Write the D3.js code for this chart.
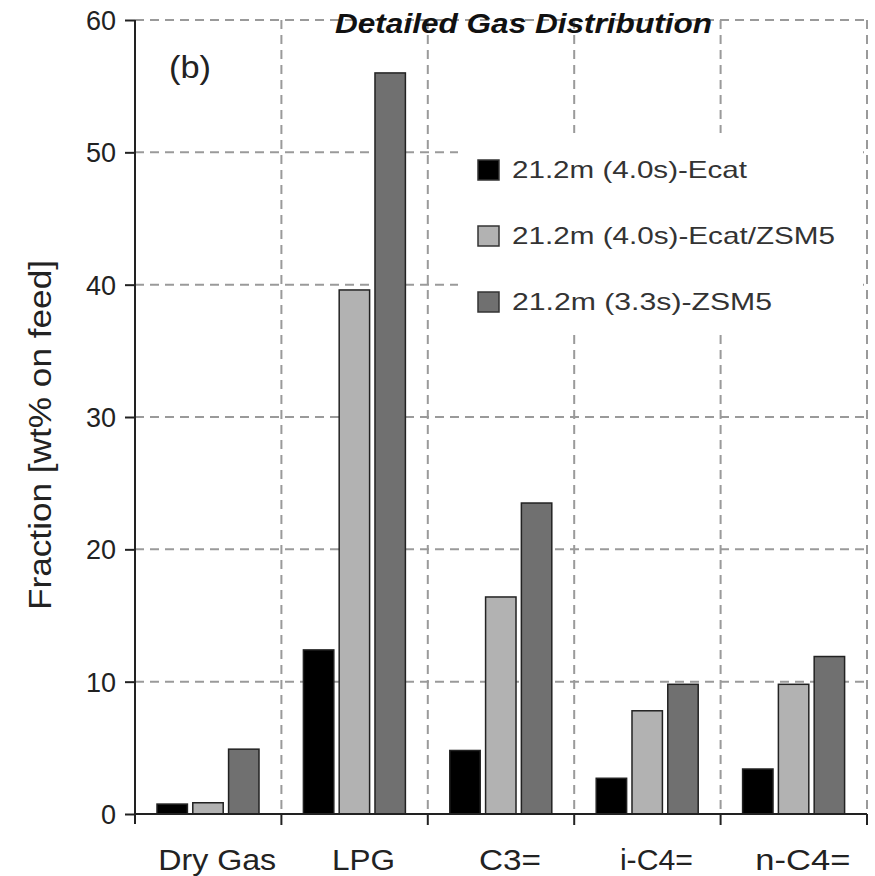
<!DOCTYPE html>
<html>
<head>
<meta charset="utf-8">
<script src="https://cdn.jsdelivr.net/npm/d3@7"></script>
<style>
  body { margin: 0; background: #fff; }
  svg { font-family: "Liberation Sans", Arial, sans-serif; }
</style>
</head>
<body>
<div id="chart"></div>
<script>
var categories = ["Dry Gas", "LPG", "C3=", "i-C4=", "n-C4="];
var seriesNames = ["21.2m (4.0s)-Ecat", "21.2m (4.0s)-Ecat/ZSM5", "21.2m (3.3s)-ZSM5"];
var ecat = [0.75, 12.4, 4.8, 2.7, 3.4];
var ecatZsm5 = [0.85, 39.6, 16.4, 7.8, 9.8];
var zsm5 = [4.9, 56.0, 23.5, 9.8, 11.9];
var yTicks = [0, 10, 20, 30, 40, 50, 60];
var colors = ["#000000", "#b2b2b2", "#707070"];

var width = 875, height = 876;
var plotLeft = 135, plotRight = 867, plotTop = 20, plotBottom = 814;
// measured text widths in the reference
var catLabelWidths = [118, 63, 62, 73, 95];
var legendWidths = [235, 323, 260];

var svg = d3.select("#chart").append("svg")
  .attr("width", width)
  .attr("height", height);

var x0 = d3.scaleBand().domain(categories).range([plotLeft, plotRight]).padding(0);
var x1 = d3.scaleBand().domain(seriesNames).range([22, 124]).paddingInner(0.15).paddingOuter(0);
var y = d3.scaleLinear().domain([0, 60]).range([plotBottom, plotTop]);

var allSeries = [ecat, ecatZsm5, zsm5];

// grid
var grid = svg.append("g").attr("stroke", "#9a9a9a").attr("stroke-width", 2).attr("stroke-dasharray", "9,6");
yTicks.filter(function(t) { return t > 0; }).forEach(function(t) {
  grid.append("line").attr("x1", plotLeft).attr("x2", plotRight).attr("y1", y(t)).attr("y2", y(t));
});
categories.forEach(function(c, i) {
  if (i === categories.length - 1) return;
  var xx = x0(c) + x0.bandwidth();
  grid.append("line").attr("x1", xx).attr("x2", xx).attr("y1", plotTop).attr("y2", plotBottom);
});

// legend background hides the grid behind it
svg.append("rect")
  .attr("x", 458).attr("y", 133)
  .attr("width", 405).attr("height", 197)
  .attr("fill", "#fff");

// right edge grid line
var lastC = categories[categories.length - 1];
svg.append("line")
  .attr("x1", x0(lastC) + x0.bandwidth()).attr("x2", x0(lastC) + x0.bandwidth())
  .attr("y1", plotTop).attr("y2", plotBottom)
  .attr("stroke", "#9a9a9a").attr("stroke-width", 2).attr("stroke-dasharray", "9,6");

// bars
categories.forEach(function(c, i) {
  seriesNames.forEach(function(s, j) {
    var v = allSeries[j][i];
    svg.append("rect")
      .attr("x", x0(c) + x1(s))
      .attr("y", y(v))
      .attr("width", x1.bandwidth())
      .attr("height", y(0) - y(v))
      .attr("fill", colors[j])
      .attr("stroke", "#222")
      .attr("stroke-width", 1.5);
  });
});

// y axis
var yAxis = d3.axisLeft(y).tickValues(yTicks).tickSize(10).tickPadding(9);
var gy = svg.append("g").attr("transform", "translate(" + plotLeft + ",0)").call(yAxis);
gy.select(".domain").attr("stroke", "#222").attr("stroke-width", 2).attr("d", "M0," + (plotBottom + 10) + "V" + plotTop);
gy.selectAll(".tick line").attr("stroke", "#222").attr("stroke-width", 2);
gy.selectAll(".tick text").attr("font-size", 27).attr("fill", "#222").attr("dy", "0.35em")
  .attr("font-family", "Liberation Sans, Arial, sans-serif");

// x axis
var gx = svg.append("g").attr("transform", "translate(0," + plotBottom + ")");
gx.append("line").attr("x1", plotLeft).attr("x2", plotRight).attr("stroke", "#222").attr("stroke-width", 2);
categories.forEach(function(c, i) {
  var xx = x0(c) + x0.bandwidth();
  gx.append("line").attr("x1", xx).attr("x2", xx).attr("y1", 0).attr("y2", 11).attr("stroke", "#222").attr("stroke-width", 2);
  gx.append("text")
    .attr("x", x0(c) + x0.bandwidth() / 2 + 9)
    .attr("y", 56)
    .attr("text-anchor", "middle")
    .attr("font-size", 30)
    .attr("fill", "#222")
    .attr("textLength", catLabelWidths[i])
    .attr("lengthAdjust", "spacingAndGlyphs")
    .text(c);
});

// y label
svg.append("text")
  .attr("transform", "translate(51," + 435 + ") rotate(-90)")
  .attr("text-anchor", "middle")
  .attr("font-size", 31)
  .attr("fill", "#222")
  .attr("textLength", 350)
  .attr("lengthAdjust", "spacingAndGlyphs")
  .text("Fraction [wt% on feed]");

// title and panel label
svg.append("text")
  .attr("x", 335).attr("y", 33)
  .attr("font-size", 28)
  .attr("font-weight", "bold")
  .attr("font-style", "italic")
  .attr("fill", "#111")
  .attr("textLength", 377)
  .attr("lengthAdjust", "spacingAndGlyphs")
  .text("Detailed Gas Distribution");

svg.append("text")
  .attr("x", 169).attr("y", 78)
  .attr("font-size", 32)
  .attr("fill", "#222")
  .attr("textLength", 42)
  .attr("lengthAdjust", "spacingAndGlyphs")
  .text("(b)");

// legend
var legend = svg.append("g");
seriesNames.forEach(function(s, j) {
  var ly = 170 + j * 66;
  legend.append("rect")
    .attr("x", 478).attr("y", ly - 10)
    .attr("width", 21).attr("height", 20)
    .attr("fill", colors[j])
    .attr("stroke", "#333").attr("stroke-width", 1.5);
  legend.append("text")
    .attr("x", 512).attr("y", ly + 8)
    .attr("font-size", 24)
    .attr("fill", "#333")
    .attr("textLength", legendWidths[j])
    .attr("lengthAdjust", "spacingAndGlyphs")
    .text(s);
});
</script>
</body>
</html>
